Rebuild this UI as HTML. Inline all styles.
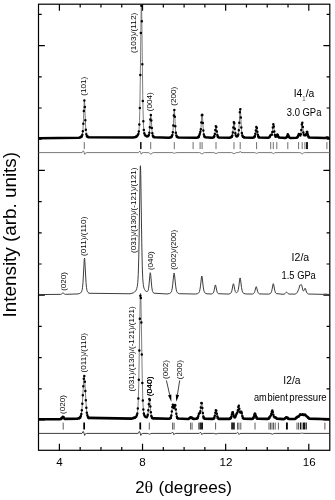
<!DOCTYPE html>
<html lang="en">
<head>
<meta charset="utf-8">
<title>XRD patterns</title>
<style>html,body{margin:0;padding:0;background:#fff;}svg{display:block;}</style>
</head>
<body>
<svg width="335" height="500" viewBox="0 0 335 500">
<rect width="335" height="500" fill="#fff"/>
<g fill="none" stroke="#000" stroke-width="1.2" stroke-linecap="butt">
<rect x="38.5" y="4.2" width="291.3" height="446.1"/>
<path d="M59.4,4.2 v6.6 M59.4,450.3 v-6.6 M80.18,4.2 v3.2 M80.18,450.3 v-3.2 M100.97,4.2 v3.2 M100.97,450.3 v-3.2 M121.75,4.2 v3.2 M121.75,450.3 v-3.2 M142.53,4.2 v6.6 M142.53,450.3 v-6.6 M163.32,4.2 v3.2 M163.32,450.3 v-3.2 M184.1,4.2 v3.2 M184.1,450.3 v-3.2 M204.88,4.2 v3.2 M204.88,450.3 v-3.2 M225.67,4.2 v6.6 M225.67,450.3 v-6.6 M246.45,4.2 v3.2 M246.45,450.3 v-3.2 M267.23,4.2 v3.2 M267.23,450.3 v-3.2 M288.02,4.2 v3.2 M288.02,450.3 v-3.2 M308.8,4.2 v6.6 M308.8,450.3 v-6.6 M38.5,14.4 h3.2 M329.8,14.4 h-3.2 M38.5,45.6 h6.4 M329.8,45.6 h-6.4 M38.5,76.8 h3.2 M329.8,76.8 h-3.2 M38.5,108 h3.2 M329.8,108 h-3.2 M38.5,139.2 h3.2 M329.8,139.2 h-3.2 M38.5,170.4 h6.4 M329.8,170.4 h-6.4 M38.5,201.6 h3.2 M329.8,201.6 h-3.2 M38.5,232.8 h3.2 M329.8,232.8 h-3.2 M38.5,264 h3.2 M329.8,264 h-3.2 M38.5,295.2 h6.4 M329.8,295.2 h-6.4 M38.5,326.4 h3.2 M329.8,326.4 h-3.2 M38.5,357.6 h3.2 M329.8,357.6 h-3.2 M38.5,388.8 h3.2 M329.8,388.8 h-3.2 M38.5,420 h6.4 M329.8,420 h-6.4"/>
</g>
<g fill="none" stroke="#6a6a6a" stroke-width="0.9">
<path d="M38.5,152.6 82.1,152.6 83.3,150.8 84.1,152.24 84.7,154.4 85.5,152.96 86.7,152.6 138.6,152.6 139.8,151 140.6,152.28 141.2,154.2 142,152.92 143.2,152.6 148.4,152.6 149.8,153.23 150.8,154.4 151.8,153.23 153.4,152.6 171.9,152.6 173.3,152.88 174.3,153.4 175.3,152.88 176.9,152.6 199.6,152.6 201,153.16 202,154.2 203,153.16 204.6,152.6 213.6,152.6 215,153.02 216,153.8 217,153.02 218.6,152.6 231.6,152.6 233,153.12 234,154.1 235,153.12 236.6,152.6 238.6,152.6 239.7,152.21 240.2,151.3 240.8,152.21 242,152.6 254.1,152.6 255.5,152.88 256.5,153.4 257.5,152.88 259.1,152.6 271,152.6 272.4,152.95 273.4,153.6 274.4,152.95 276,152.6 299.8,152.6 301.2,153.09 302.2,154 303.2,153.09 304.8,152.6 329.8,152.6"/>
<path stroke="#2a2a2a" stroke-width="0.9" d="M38.5,433.4 82,433.4 83.2,431.4 84,433 84.6,435.4 85.4,433.8 86.6,433.4 138.2,433.4 139.4,431.4 140.2,433 140.8,435.4 141.6,433.8 142.8,433.4 147.1,433.4 148.5,433.68 149.5,434.2 150.5,433.68 152.1,433.4 171.3,433.4 172.5,432.1 173.3,433.14 173.9,434.7 174.7,433.66 175.9,433.4 199.2,433.4 200.4,432.2 201.2,433.16 201.8,434.6 202.6,433.64 203.8,433.4 213.6,433.4 215,433.64 216,434.1 217,433.64 218.6,433.4 236.4,433.4 237.6,432.3 238.4,433.18 239,434.5 239.8,433.62 241,433.4 269.8,433.4 271.2,433.71 272.2,434.3 273.2,433.71 274.8,433.4 300.4,433.4 301.5,433.22 302,432.8 302.6,433.22 303.8,433.4 329.8,433.4"/>
</g>
<g fill="none" stroke-width="0.95">
<path stroke="#666" d="M84.3,142.1 V149.1 M150.7,142.1 V149.1 M174.3,142.1 V149.1 M193.1,142.1 V149.1 M200.1,142.1 V149.1 M202.1,142.1 V149.1 M216,142.1 V149.1 M234,142.1 V149.1 M240.2,142.1 V149.1 M256.6,142.1 V149.1 M270.7,142.1 V149.1 M273.3,142.1 V149.1 M276.8,142.1 V149.1 M287.8,142.1 V149.1 M298.6,142.1 V149.1 M302.2,142.1 V149.1 M304.9,142.1 V149.1 M326.9,142.1 V149.1"/>
<path stroke="#111" d="M140.5,142.1 V149.1 M141.1,142.1 V149.1 M306.5,142.1 V149.1 M307.5,142.1 V149.1"/>
<path stroke="#555" d="M63.2,422.6 V429.6 M149.3,422.6 V429.6 M172.6,422.6 V429.6 M174.1,422.6 V429.6 M190.6,422.6 V429.6 M192.1,422.6 V429.6 M198.7,422.6 V429.6 M215.6,422.6 V429.6 M237.5,422.6 V429.6 M238.9,422.6 V429.6 M240.8,422.6 V429.6 M255,422.6 V429.6 M269,422.6 V429.6 M270.5,422.6 V429.6 M272,422.6 V429.6 M273.5,422.6 V429.6 M275.2,422.6 V429.6 M278.4,422.6 V429.6 M297,422.6 V429.6 M298.5,422.6 V429.6 M301.9,422.6 V429.6 M324.9,422.6 V429.6"/>
<path stroke="#000" stroke-width="1.05" d="M83.8,422.6 V429.6 M84.5,422.6 V429.6 M139.9,422.6 V429.6 M140.6,422.6 V429.6 M200,422.6 V429.6 M201.2,422.6 V429.6 M202.4,422.6 V429.6 M231.8,422.6 V429.6 M233,422.6 V429.6 M234.2,422.6 V429.6 M286.5,422.6 V429.6 M287.3,422.6 V429.6 M300.4,422.6 V429.6 M303.4,422.6 V429.6 M304.6,422.6 V429.6 M306.2,422.6 V429.6"/>
</g>
<defs><clipPath id="cp"><rect x="38.5" y="4.2" width="291.3" height="446.1"/></clipPath></defs>
<g clip-path="url(#cp)">
<g fill="none" stroke="#666" stroke-width="0.85" stroke-linejoin="round">
<path d="M38.5,138.19 79,137.68 80.5,137.24 81.25,136.77 81.75,136.2 82,135.74 82.25,135.03 82.5,133.89 82.75,132.06 83,129.2 83.5,119.43 84,106.18 84.25,101.55 84.5,101.07 84.75,105.01 85.5,124.01 85.75,128.47 86,131.58 86.25,133.59 86.5,134.84 86.75,135.62 87.25,136.46 88,137.08 133.25,137.53 135.75,136.87 136.75,136.29 137.5,135.55 138,134.76 138.25,134.17 138.5,133.33 138.75,132.02 139,129.88 139.25,126.31 139.5,120.51 139.75,111.55 140.25,81.53 141,19.68 141.25,7.29 141.5,6.06 141.75,16.46 142.75,95.47 143,109.22 143.25,118.91 143.5,125.26 143.75,129.18 144,131.54 144.25,132.96 144.5,133.85 145,134.9 145.75,135.73 146.5,136.15 147.25,136.3 147.75,136.25 148.25,136 148.5,135.73 148.75,135.26 149,134.48 149.25,133.19 149.5,131.19 150,124.71 150.5,116.94 150.75,115.05 151,115.93 152,130.4 152.25,132.78 152.5,134.38 152.75,135.41 153,136.05 153.5,136.72 154.5,137.28 169,137.71 170.75,137.26 171.5,136.78 172,136.1 172.25,135.47 172.5,134.44 172.75,132.79 173,130.28 174,112.56 174.25,110.19 174.5,111.25 175.5,129 175.75,131.91 176,133.88 176.25,135.12 176.5,135.89 176.75,136.38 177.25,136.92 178.5,137.51 196.5,137.74 197.75,137.42 198.25,137.13 198.75,136.53 199.25,135.41 200.5,131.25 200.75,129.75 201,127.37 201.75,115.97 202,113.54 202.25,113.94 202.5,117.02 203.25,129.41 203.5,132.15 203.75,134.03 204,135.24 204.25,135.99 204.5,136.46 205,136.98 206.5,137.58 212.25,137.71 213.25,137.46 213.75,137.14 214,136.84 214.25,136.35 214.5,135.57 214.75,134.39 215.75,126.63 216,125.88 216.25,126.64 217.25,134.4 217.5,135.58 217.75,136.37 218,136.86 218.5,137.36 229.25,137.76 231,137.34 231.5,137.03 231.75,136.77 232,136.36 232.25,135.7 232.5,134.66 232.75,133.1 233.75,122.86 234,121.84 234.25,122.81 235,130.74 235.25,132.84 235.5,134.34 235.75,135.31 236,135.89 236.25,136.21 236.5,136.37 237,136.4 237.5,136.15 237.75,135.87 238,135.41 238.25,134.65 238.5,133.37 238.75,131.33 239.25,124.13 240,109.66 240.25,108.56 240.5,111.06 241.25,126.03 241.5,129.78 241.75,132.43 242,134.17 242.25,135.26 242.5,135.94 243,136.66 244,137.29 252.25,137.8 253.75,137.47 254.25,137.12 254.5,136.8 254.75,136.28 255,135.49 255.5,132.84 256.25,127.52 256.5,126.9 256.75,127.52 257.75,134.36 258,135.5 258.25,136.29 258.5,136.81 258.75,137.14 259.25,137.49 268,137.83 268.75,137.66 269.25,137.36 269.75,136.71 270.5,135.21 270.75,134.88 271,134.8 271.5,134.9 271.75,134.66 272,133.96 272.25,132.67 273,125.98 273.25,124.29 273.5,124.13 273.75,125.61 274.5,132.69 274.75,134.34 275,135.48 275.25,136.19 275.5,136.57 275.75,136.72 276,136.67 276.25,136.43 277,134.85 277.25,134.45 277.5,134.45 277.75,134.87 278.5,136.77 278.75,137.2 279.25,137.66 285.25,137.95 286,137.77 286.25,137.61 286.5,137.34 287,136.33 287.5,134.9 287.75,134.4 288,134.34 288.25,134.77 289,136.82 289.25,137.27 289.5,137.57 290,137.85 296.25,137.83 297,137.61 297.5,137.18 298,136.25 298.75,134.27 299,133.98 299.25,134.11 300,135.39 300.25,135.5 300.5,135.21 300.75,134.41 301,132.98 302,123.08 302.25,122.46 302.5,123.82 303.25,131.67 303.5,133.44 303.75,134.53 304,135.07 304.25,135.21 304.75,135.05 305,135.07 305.5,135.34 305.75,135.29 306,134.93 306.75,132.24 307,131.63 307.25,131.78 308.25,136.03 308.5,136.74 308.75,137.2 309,137.48 309.5,137.74 325,138.05 326.75,137.39 327.25,137.45 328.5,138 329.75,138.13"/>
<path stroke="#333" stroke-width="0.95" d="M38.5,294.57 60.5,294.36 61.25,294.15 62.75,292.99 63,292.92 63.25,292.99 64.5,294 65.5,294.33 78,293.93 79.75,293.4 80.75,292.75 81.25,292.18 81.75,291.19 82,290.4 82.25,289.27 82.5,287.67 83,282.42 84.25,259.58 84.5,258.06 84.75,259.58 86,282.42 86.5,287.66 86.75,289.27 87,290.4 87.5,291.75 88,292.49 89,293.27 130,293.76 133.25,292.89 134.5,292.15 135.5,291.13 136.25,289.88 136.75,288.59 137.25,286.52 137.5,284.9 137.75,282.59 138,279.23 138.25,274.33 138.75,257.76 139.25,229.71 140,177.14 140.25,166.78 140.5,165.76 140.75,174.44 141.75,242.25 142.25,265.55 142.5,273 142.75,278.25 143,281.86 143.25,284.33 143.5,286.04 144,288.18 144.5,289.46 145.25,290.63 146,291.29 146.75,291.57 147.25,291.52 147.5,291.37 147.75,291.1 148,290.64 148.25,289.9 148.5,288.77 149,285.04 150,273.88 150.25,272.71 150.5,273.29 150.75,275.41 151.75,286.9 152.25,290.21 152.5,291.2 152.75,291.88 153.25,292.66 154,293.21 167,293.99 169.5,293.48 170.25,293.1 170.75,292.67 171.25,291.92 171.75,290.54 172.25,288.08 172.75,284.18 173.75,274.26 174,273.08 174.25,273.21 174.5,274.63 175.75,286.71 176.25,289.73 176.75,291.49 177.25,292.45 177.75,292.99 179.25,293.7 195.75,294.04 197.75,293.55 198.5,293.09 199,292.5 199.5,291.39 200,289.31 200.5,285.87 201.5,276.91 201.75,276.01 202,276.4 202.25,277.96 203.25,287.05 203.75,290.05 204.25,291.78 204.75,292.7 205.25,293.18 207,293.84 211.25,293.96 212.25,293.73 212.75,293.47 213.25,292.94 213.75,291.84 214.25,289.9 215,285.91 215.25,285.07 215.5,284.99 215.75,285.7 216.75,290.81 217.25,292.4 217.75,293.24 218.25,293.66 228.25,294.08 230,293.68 230.5,293.4 231,292.89 231.5,291.89 232,290.12 233,284.71 233.25,283.86 233.5,283.76 233.75,284.43 234.75,289.63 235.25,291.37 235.5,291.91 235.75,292.27 236,292.5 236.25,292.62 236.75,292.62 237.25,292.29 237.5,291.96 237.75,291.47 238.25,289.8 238.75,286.92 239.75,278.93 240,277.93 240.25,278.06 240.5,279.28 241.5,287.43 242,290.25 242.5,291.91 243,292.79 243.5,293.26 245.75,293.99 252.25,294.04 253.25,293.76 253.75,293.42 254.25,292.74 254.75,291.51 255.75,287.56 256,286.86 256.25,286.68 256.5,287.09 257.75,291.83 258.25,292.94 258.75,293.53 259.5,293.93 268.5,294.13 270,293.76 270.5,293.45 271,292.86 271.5,291.73 272,289.75 273,284.3 273.25,283.73 273.5,283.98 273.75,284.96 274.75,290.44 275.25,292.15 275.75,293.09 276.25,293.57 283,294.29 284.25,294.08 285,293.65 286.25,292.22 286.5,292.07 286.75,292.08 287.25,292.55 288.25,293.69 289,294.09 294.75,294.09 295.75,293.82 296.5,293.33 297.25,292.37 298.5,289.75 299,288.23 299.75,285.36 300,284.93 300.25,284.91 300.5,285.04 300.75,285.08 301.25,284.72 301.5,284.73 301.75,285.25 302.75,289.77 303,290.5 303.25,290.91 303.5,291.01 303.75,290.82 304.25,289.8 304.75,288.52 305,288.2 305.25,288.32 305.5,288.85 306.5,292.01 307,293.01 307.5,293.57 308.5,294.03 323,294.37 325,294.06 329.75,294.54"/>
<path d="M38.5,419.23 60.5,419.04 61,418.89 61.5,418.53 62.5,417.15 62.75,416.92 63,416.89 63.25,417.08 64.25,418.46 64.75,418.84 77.5,418.61 79.25,418.13 80,417.64 80.5,416.97 80.75,416.41 81,415.62 81.5,413 82,408.36 82.75,396.81 83.5,382.75 83.75,379.11 84,376.82 84.25,376.27 84.5,377.55 84.75,380.43 86,402.85 86.5,409.48 87,413.66 87.5,415.97 88,417.13 88.5,417.72 89.75,418.34 131.75,418.53 134.5,417.81 135.75,417.03 136.25,416.5 136.75,415.63 137,414.92 137.25,413.86 137.5,412.26 137.75,409.8 138,406.11 138.25,400.75 138.75,383.35 140,308.96 140.25,298.16 140.5,293.29 140.75,295.4 141,304.03 142.25,378.59 142.75,397.94 143,404.09 143.25,408.37 143.5,411.25 143.75,413.14 144,414.37 144.25,415.18 144.75,416.11 145.25,416.61 146,417 146.5,417.06 146.75,417.01 147,416.86 147.25,416.54 147.5,415.95 147.75,414.95 148,413.41 148.5,408.4 149,401.96 149.25,399.5 149.5,398.57 149.75,399.57 150.75,411.58 151,413.85 151.25,415.48 151.5,416.57 151.75,417.26 152,417.68 152.5,418.12 168.25,418.83 169.75,418.52 170.25,418.23 170.5,417.97 170.75,417.53 171,416.85 171.25,415.81 171.75,412.44 172.5,405.89 172.75,404.78 173,404.8 173.75,407.83 174,408.07 174.25,407.54 174.75,405.29 175,404.66 175.25,405.1 175.5,406.62 176.25,413.26 176.75,416.29 177,417.18 177.25,417.75 177.5,418.11 178,418.48 187.75,419 188.75,418.77 190.5,417.43 190.75,417.32 191,417.31 191.5,417.57 192.75,418.57 193.75,418.89 196.25,418.77 197,418.49 197.5,417.96 198,416.84 199,413.49 199.25,413.07 199.75,412.9 200,412.59 200.25,411.76 200.5,410.27 201.25,403.67 201.5,402.45 201.75,402.71 202,404.39 202.75,412.28 203.25,415.91 203.5,416.96 203.75,417.64 204,418.06 204.5,418.47 212.25,418.94 213.25,418.76 213.75,418.46 214,418.16 214.25,417.69 214.75,415.95 215.75,410.6 216,410.17 216.25,410.6 217.25,415.96 217.75,417.69 218,418.17 218.25,418.48 218.75,418.77 229.25,418.91 230,418.74 230.5,418.42 230.75,418.1 231,417.61 231.5,415.97 232.25,412.64 232.5,412.04 232.75,412.09 233,412.76 233.75,415.96 234,416.77 234.25,417.33 234.5,417.64 234.75,417.71 235,417.57 235.25,417.23 236.5,413.95 237.25,412.73 237.5,411.9 238.5,406.19 238.75,405.9 239,406.67 239.75,411.32 240,412.23 240.25,412.53 240.5,412.31 241,411.42 241.25,411.46 241.5,412.07 242.5,416.54 243,417.87 243.25,418.23 243.75,418.62 251.75,418.96 252.5,418.76 253,418.36 253.5,417.51 254.5,414.48 254.75,413.9 255,413.68 255.25,413.9 256.5,417.52 257,418.37 257.5,418.77 267.25,418.98 268,418.81 268.5,418.53 269.25,417.69 270.75,415.44 271.25,414.01 272,411.06 272.25,410.66 272.5,410.94 273.5,415.32 273.75,416.17 274,416.75 274.25,417.08 274.5,417.22 275.25,417.34 277,418.69 283.75,419.04 284.5,418.85 285.25,418.33 286.25,417.31 286.5,417.19 286.75,417.2 287.25,417.58 288.25,418.58 289,418.95 294.5,418.97 295.25,418.77 296,418.23 297,417.09 297.25,416.89 297.5,416.8 298.25,416.85 298.5,416.79 298.75,416.6 299.25,415.86 300,414.51 300.25,414.34 300.5,414.37 301.25,414.88 301.5,414.9 302.5,414.28 302.75,414.31 303.5,414.94 303.75,415.07 304,415.07 304.75,414.63 305,414.6 305.25,414.74 306.25,415.96 307.25,416.59 308.75,418.36 309.5,418.83 329.75,419.23"/>
</g>
<path fill="none" stroke="#000" stroke-width="2.5" stroke-linecap="round" stroke-linejoin="round" d="M38.5,138.19 79,137.68 80.5,137.24 81.4,136.63 M87.4,136.63 88.6,137.36 133.3,137.52 135.7,136.89 136,136.75 M153.4,136.62 154.3,137.2 169,137.71 170.8,137.24 171.4,136.87 M177.1,136.8 178.3,137.45 196.6,137.72 197.8,137.4 198.4,136.99 198.7,136.61 M204.7,136.71 205.6,137.31 211.6,137.78 213.1,137.52 213.7,137.19 214,136.84 M217.9,136.69 218.2,137.11 218.8,137.51 229.6,137.71 231.1,137.29 231.7,136.83 M243.1,136.76 244.3,137.4 252.4,137.78 253.6,137.53 254.2,137.17 254.5,136.8 M258.4,136.63 258.7,137.09 259.3,137.51 268,137.83 268.9,137.6 269.5,137.09 269.8,136.62 M278.5,136.77 278.8,137.27 279.1,137.56 285.4,137.93 286,137.77 286.3,137.57 286.6,137.19 M289,136.82 289.3,137.34 289.6,137.65 290.5,137.94 296.5,137.78 297.1,137.55 297.4,137.3 297.7,136.88 M308.5,136.74 308.8,137.27 309.1,137.55 325,138.05 326.8,137.38 327.4,137.52 328.6,138.02 329.5,138.12"/>
<path fill="#000" d="M79.58,136.95a1.25,1.25 0 1,0 2.5,0a1.25,1.25 0 1,0 -2.5,0M80.08,136.66a1.25,1.25 0 1,0 2.5,0a1.25,1.25 0 1,0 -2.5,0M80.58,136.07a1.25,1.25 0 1,0 2.5,0a1.25,1.25 0 1,0 -2.5,0M81.08,134.67a1.25,1.25 0 1,0 2.5,0a1.25,1.25 0 1,0 -2.5,0M81.58,131.25a1.25,1.25 0 1,0 2.5,0a1.25,1.25 0 1,0 -2.5,0M82.08,123.67a1.25,1.25 0 1,0 2.5,0a1.25,1.25 0 1,0 -2.5,0M82.58,110.94a1.25,1.25 0 1,0 2.5,0a1.25,1.25 0 1,0 -2.5,0M83.08,100.38a1.25,1.25 0 1,0 2.5,0a1.25,1.25 0 1,0 -2.5,0M83.58,106.95a1.25,1.25 0 1,0 2.5,0a1.25,1.25 0 1,0 -2.5,0M84.08,120.36a1.25,1.25 0 1,0 2.5,0a1.25,1.25 0 1,0 -2.5,0M84.58,129.75a1.25,1.25 0 1,0 2.5,0a1.25,1.25 0 1,0 -2.5,0M85.08,134.15a1.25,1.25 0 1,0 2.5,0a1.25,1.25 0 1,0 -2.5,0M85.58,135.94a1.25,1.25 0 1,0 2.5,0a1.25,1.25 0 1,0 -2.5,0M86.08,136.45a1.25,1.25 0 1,0 2.5,0a1.25,1.25 0 1,0 -2.5,0M86.58,136.85a1.25,1.25 0 1,0 2.5,0a1.25,1.25 0 1,0 -2.5,0M134.08,136.92a1.25,1.25 0 1,0 2.5,0a1.25,1.25 0 1,0 -2.5,0M134.58,136.97a1.25,1.25 0 1,0 2.5,0a1.25,1.25 0 1,0 -2.5,0M135.08,136.61a1.25,1.25 0 1,0 2.5,0a1.25,1.25 0 1,0 -2.5,0M135.58,136.16a1.25,1.25 0 1,0 2.5,0a1.25,1.25 0 1,0 -2.5,0M136.08,135.84a1.25,1.25 0 1,0 2.5,0a1.25,1.25 0 1,0 -2.5,0M136.58,134.95a1.25,1.25 0 1,0 2.5,0a1.25,1.25 0 1,0 -2.5,0M137.08,133.92a1.25,1.25 0 1,0 2.5,0a1.25,1.25 0 1,0 -2.5,0M137.58,131.49a1.25,1.25 0 1,0 2.5,0a1.25,1.25 0 1,0 -2.5,0M138.08,124.53a1.25,1.25 0 1,0 2.5,0a1.25,1.25 0 1,0 -2.5,0M138.58,107.9a1.25,1.25 0 1,0 2.5,0a1.25,1.25 0 1,0 -2.5,0M139.08,75.05a1.25,1.25 0 1,0 2.5,0a1.25,1.25 0 1,0 -2.5,0M139.58,33.06a1.25,1.25 0 1,0 2.5,0a1.25,1.25 0 1,0 -2.5,0M140.08,5.79a1.25,1.25 0 1,0 2.5,0a1.25,1.25 0 1,0 -2.5,0M140.58,21.36a1.25,1.25 0 1,0 2.5,0a1.25,1.25 0 1,0 -2.5,0M141.08,64.17a1.25,1.25 0 1,0 2.5,0a1.25,1.25 0 1,0 -2.5,0M141.58,100.99a1.25,1.25 0 1,0 2.5,0a1.25,1.25 0 1,0 -2.5,0M142.08,121.21a1.25,1.25 0 1,0 2.5,0a1.25,1.25 0 1,0 -2.5,0M142.58,129.96a1.25,1.25 0 1,0 2.5,0a1.25,1.25 0 1,0 -2.5,0M143.08,133.17a1.25,1.25 0 1,0 2.5,0a1.25,1.25 0 1,0 -2.5,0M143.58,134.73a1.25,1.25 0 1,0 2.5,0a1.25,1.25 0 1,0 -2.5,0M144.08,135.43a1.25,1.25 0 1,0 2.5,0a1.25,1.25 0 1,0 -2.5,0M144.58,135.82a1.25,1.25 0 1,0 2.5,0a1.25,1.25 0 1,0 -2.5,0M145.08,135.99a1.25,1.25 0 1,0 2.5,0a1.25,1.25 0 1,0 -2.5,0M145.58,136.4a1.25,1.25 0 1,0 2.5,0a1.25,1.25 0 1,0 -2.5,0M146.08,136.18a1.25,1.25 0 1,0 2.5,0a1.25,1.25 0 1,0 -2.5,0M146.58,136.34a1.25,1.25 0 1,0 2.5,0a1.25,1.25 0 1,0 -2.5,0M147.08,135.88a1.25,1.25 0 1,0 2.5,0a1.25,1.25 0 1,0 -2.5,0M147.58,135.1a1.25,1.25 0 1,0 2.5,0a1.25,1.25 0 1,0 -2.5,0M148.08,132.63a1.25,1.25 0 1,0 2.5,0a1.25,1.25 0 1,0 -2.5,0M148.58,127.14a1.25,1.25 0 1,0 2.5,0a1.25,1.25 0 1,0 -2.5,0M149.08,119.53a1.25,1.25 0 1,0 2.5,0a1.25,1.25 0 1,0 -2.5,0M149.58,115a1.25,1.25 0 1,0 2.5,0a1.25,1.25 0 1,0 -2.5,0M150.08,120.39a1.25,1.25 0 1,0 2.5,0a1.25,1.25 0 1,0 -2.5,0M150.58,128.06a1.25,1.25 0 1,0 2.5,0a1.25,1.25 0 1,0 -2.5,0M151.08,133.37a1.25,1.25 0 1,0 2.5,0a1.25,1.25 0 1,0 -2.5,0M151.58,135.76a1.25,1.25 0 1,0 2.5,0a1.25,1.25 0 1,0 -2.5,0M152.08,136.52a1.25,1.25 0 1,0 2.5,0a1.25,1.25 0 1,0 -2.5,0M152.58,137.07a1.25,1.25 0 1,0 2.5,0a1.25,1.25 0 1,0 -2.5,0M170.08,136.92a1.25,1.25 0 1,0 2.5,0a1.25,1.25 0 1,0 -2.5,0M170.58,136.25a1.25,1.25 0 1,0 2.5,0a1.25,1.25 0 1,0 -2.5,0M171.08,135.11a1.25,1.25 0 1,0 2.5,0a1.25,1.25 0 1,0 -2.5,0M171.58,132.15a1.25,1.25 0 1,0 2.5,0a1.25,1.25 0 1,0 -2.5,0M172.08,125.47a1.25,1.25 0 1,0 2.5,0a1.25,1.25 0 1,0 -2.5,0M172.58,115.44a1.25,1.25 0 1,0 2.5,0a1.25,1.25 0 1,0 -2.5,0M173.08,109.88a1.25,1.25 0 1,0 2.5,0a1.25,1.25 0 1,0 -2.5,0M173.58,116.75a1.25,1.25 0 1,0 2.5,0a1.25,1.25 0 1,0 -2.5,0M174.08,126.28a1.25,1.25 0 1,0 2.5,0a1.25,1.25 0 1,0 -2.5,0M174.58,132.64a1.25,1.25 0 1,0 2.5,0a1.25,1.25 0 1,0 -2.5,0M175.08,135.41a1.25,1.25 0 1,0 2.5,0a1.25,1.25 0 1,0 -2.5,0M175.58,136.48a1.25,1.25 0 1,0 2.5,0a1.25,1.25 0 1,0 -2.5,0M176.08,137.07a1.25,1.25 0 1,0 2.5,0a1.25,1.25 0 1,0 -2.5,0M197.08,137.18a1.25,1.25 0 1,0 2.5,0a1.25,1.25 0 1,0 -2.5,0M197.58,136.49a1.25,1.25 0 1,0 2.5,0a1.25,1.25 0 1,0 -2.5,0M198.08,135.32a1.25,1.25 0 1,0 2.5,0a1.25,1.25 0 1,0 -2.5,0M198.58,133.64a1.25,1.25 0 1,0 2.5,0a1.25,1.25 0 1,0 -2.5,0M199.08,131.87a1.25,1.25 0 1,0 2.5,0a1.25,1.25 0 1,0 -2.5,0M199.58,129.15a1.25,1.25 0 1,0 2.5,0a1.25,1.25 0 1,0 -2.5,0M200.08,122.62a1.25,1.25 0 1,0 2.5,0a1.25,1.25 0 1,0 -2.5,0M200.58,115.15a1.25,1.25 0 1,0 2.5,0a1.25,1.25 0 1,0 -2.5,0M201.08,114.9a1.25,1.25 0 1,0 2.5,0a1.25,1.25 0 1,0 -2.5,0M201.58,122.93a1.25,1.25 0 1,0 2.5,0a1.25,1.25 0 1,0 -2.5,0M202.08,130.54a1.25,1.25 0 1,0 2.5,0a1.25,1.25 0 1,0 -2.5,0M202.58,134.62a1.25,1.25 0 1,0 2.5,0a1.25,1.25 0 1,0 -2.5,0M203.08,136.13a1.25,1.25 0 1,0 2.5,0a1.25,1.25 0 1,0 -2.5,0M203.58,136.92a1.25,1.25 0 1,0 2.5,0a1.25,1.25 0 1,0 -2.5,0M212.58,137.11a1.25,1.25 0 1,0 2.5,0a1.25,1.25 0 1,0 -2.5,0M213.08,136.12a1.25,1.25 0 1,0 2.5,0a1.25,1.25 0 1,0 -2.5,0M213.58,134.02a1.25,1.25 0 1,0 2.5,0a1.25,1.25 0 1,0 -2.5,0M214.08,129.94a1.25,1.25 0 1,0 2.5,0a1.25,1.25 0 1,0 -2.5,0M214.58,126.15a1.25,1.25 0 1,0 2.5,0a1.25,1.25 0 1,0 -2.5,0M215.08,127.11a1.25,1.25 0 1,0 2.5,0a1.25,1.25 0 1,0 -2.5,0M215.58,131.58a1.25,1.25 0 1,0 2.5,0a1.25,1.25 0 1,0 -2.5,0M216.08,134.91a1.25,1.25 0 1,0 2.5,0a1.25,1.25 0 1,0 -2.5,0M216.58,136.46a1.25,1.25 0 1,0 2.5,0a1.25,1.25 0 1,0 -2.5,0M230.58,136.6a1.25,1.25 0 1,0 2.5,0a1.25,1.25 0 1,0 -2.5,0M231.08,135.58a1.25,1.25 0 1,0 2.5,0a1.25,1.25 0 1,0 -2.5,0M231.58,132.54a1.25,1.25 0 1,0 2.5,0a1.25,1.25 0 1,0 -2.5,0M232.08,127.49a1.25,1.25 0 1,0 2.5,0a1.25,1.25 0 1,0 -2.5,0M232.58,122.35a1.25,1.25 0 1,0 2.5,0a1.25,1.25 0 1,0 -2.5,0M233.08,123.27a1.25,1.25 0 1,0 2.5,0a1.25,1.25 0 1,0 -2.5,0M233.58,128.84a1.25,1.25 0 1,0 2.5,0a1.25,1.25 0 1,0 -2.5,0M234.08,133.27a1.25,1.25 0 1,0 2.5,0a1.25,1.25 0 1,0 -2.5,0M234.58,135.45a1.25,1.25 0 1,0 2.5,0a1.25,1.25 0 1,0 -2.5,0M235.08,136.18a1.25,1.25 0 1,0 2.5,0a1.25,1.25 0 1,0 -2.5,0M235.58,136.47a1.25,1.25 0 1,0 2.5,0a1.25,1.25 0 1,0 -2.5,0M236.08,136.28a1.25,1.25 0 1,0 2.5,0a1.25,1.25 0 1,0 -2.5,0M236.58,135.85a1.25,1.25 0 1,0 2.5,0a1.25,1.25 0 1,0 -2.5,0M237.08,134.39a1.25,1.25 0 1,0 2.5,0a1.25,1.25 0 1,0 -2.5,0M237.58,130.3a1.25,1.25 0 1,0 2.5,0a1.25,1.25 0 1,0 -2.5,0M238.08,122.75a1.25,1.25 0 1,0 2.5,0a1.25,1.25 0 1,0 -2.5,0M238.58,112.3a1.25,1.25 0 1,0 2.5,0a1.25,1.25 0 1,0 -2.5,0M239.08,109.13a1.25,1.25 0 1,0 2.5,0a1.25,1.25 0 1,0 -2.5,0M239.58,117.58a1.25,1.25 0 1,0 2.5,0a1.25,1.25 0 1,0 -2.5,0M240.08,127.41a1.25,1.25 0 1,0 2.5,0a1.25,1.25 0 1,0 -2.5,0M240.58,132.89a1.25,1.25 0 1,0 2.5,0a1.25,1.25 0 1,0 -2.5,0M241.08,135.6a1.25,1.25 0 1,0 2.5,0a1.25,1.25 0 1,0 -2.5,0M241.58,136.58a1.25,1.25 0 1,0 2.5,0a1.25,1.25 0 1,0 -2.5,0M242.08,136.92a1.25,1.25 0 1,0 2.5,0a1.25,1.25 0 1,0 -2.5,0M242.58,137.18a1.25,1.25 0 1,0 2.5,0a1.25,1.25 0 1,0 -2.5,0M253.08,136.91a1.25,1.25 0 1,0 2.5,0a1.25,1.25 0 1,0 -2.5,0M253.58,135.94a1.25,1.25 0 1,0 2.5,0a1.25,1.25 0 1,0 -2.5,0M254.08,133.81a1.25,1.25 0 1,0 2.5,0a1.25,1.25 0 1,0 -2.5,0M254.58,130.51a1.25,1.25 0 1,0 2.5,0a1.25,1.25 0 1,0 -2.5,0M255.08,126.92a1.25,1.25 0 1,0 2.5,0a1.25,1.25 0 1,0 -2.5,0M255.58,128a1.25,1.25 0 1,0 2.5,0a1.25,1.25 0 1,0 -2.5,0M256.08,131.69a1.25,1.25 0 1,0 2.5,0a1.25,1.25 0 1,0 -2.5,0M256.58,134.85a1.25,1.25 0 1,0 2.5,0a1.25,1.25 0 1,0 -2.5,0M257.08,136.55a1.25,1.25 0 1,0 2.5,0a1.25,1.25 0 1,0 -2.5,0M257.58,137.14a1.25,1.25 0 1,0 2.5,0a1.25,1.25 0 1,0 -2.5,0M268.58,136.56a1.25,1.25 0 1,0 2.5,0a1.25,1.25 0 1,0 -2.5,0M269.08,135.58a1.25,1.25 0 1,0 2.5,0a1.25,1.25 0 1,0 -2.5,0M269.58,134.98a1.25,1.25 0 1,0 2.5,0a1.25,1.25 0 1,0 -2.5,0M270.08,134.84a1.25,1.25 0 1,0 2.5,0a1.25,1.25 0 1,0 -2.5,0M270.58,134.64a1.25,1.25 0 1,0 2.5,0a1.25,1.25 0 1,0 -2.5,0M271.08,131.91a1.25,1.25 0 1,0 2.5,0a1.25,1.25 0 1,0 -2.5,0M271.58,127.55a1.25,1.25 0 1,0 2.5,0a1.25,1.25 0 1,0 -2.5,0M272.08,124.16a1.25,1.25 0 1,0 2.5,0a1.25,1.25 0 1,0 -2.5,0M272.58,126.44a1.25,1.25 0 1,0 2.5,0a1.25,1.25 0 1,0 -2.5,0M273.08,131.4a1.25,1.25 0 1,0 2.5,0a1.25,1.25 0 1,0 -2.5,0M273.58,134.88a1.25,1.25 0 1,0 2.5,0a1.25,1.25 0 1,0 -2.5,0M274.08,136.43a1.25,1.25 0 1,0 2.5,0a1.25,1.25 0 1,0 -2.5,0M274.58,136.72a1.25,1.25 0 1,0 2.5,0a1.25,1.25 0 1,0 -2.5,0M275.08,136.42a1.25,1.25 0 1,0 2.5,0a1.25,1.25 0 1,0 -2.5,0M275.58,135.27a1.25,1.25 0 1,0 2.5,0a1.25,1.25 0 1,0 -2.5,0M276.08,134.46a1.25,1.25 0 1,0 2.5,0a1.25,1.25 0 1,0 -2.5,0M276.58,134.98a1.25,1.25 0 1,0 2.5,0a1.25,1.25 0 1,0 -2.5,0M277.08,136.39a1.25,1.25 0 1,0 2.5,0a1.25,1.25 0 1,0 -2.5,0M285.58,136.89a1.25,1.25 0 1,0 2.5,0a1.25,1.25 0 1,0 -2.5,0M286.08,135.41a1.25,1.25 0 1,0 2.5,0a1.25,1.25 0 1,0 -2.5,0M286.58,134.25a1.25,1.25 0 1,0 2.5,0a1.25,1.25 0 1,0 -2.5,0M287.08,135.15a1.25,1.25 0 1,0 2.5,0a1.25,1.25 0 1,0 -2.5,0M287.58,136.45a1.25,1.25 0 1,0 2.5,0a1.25,1.25 0 1,0 -2.5,0M296.58,136.55a1.25,1.25 0 1,0 2.5,0a1.25,1.25 0 1,0 -2.5,0M297.08,135.22a1.25,1.25 0 1,0 2.5,0a1.25,1.25 0 1,0 -2.5,0M297.58,134.12a1.25,1.25 0 1,0 2.5,0a1.25,1.25 0 1,0 -2.5,0M298.08,134.36a1.25,1.25 0 1,0 2.5,0a1.25,1.25 0 1,0 -2.5,0M298.58,135.12a1.25,1.25 0 1,0 2.5,0a1.25,1.25 0 1,0 -2.5,0M299.08,135.46a1.25,1.25 0 1,0 2.5,0a1.25,1.25 0 1,0 -2.5,0M299.58,134.13a1.25,1.25 0 1,0 2.5,0a1.25,1.25 0 1,0 -2.5,0M300.08,129.96a1.25,1.25 0 1,0 2.5,0a1.25,1.25 0 1,0 -2.5,0M300.58,124.44a1.25,1.25 0 1,0 2.5,0a1.25,1.25 0 1,0 -2.5,0M301.08,122.84a1.25,1.25 0 1,0 2.5,0a1.25,1.25 0 1,0 -2.5,0M301.58,127.07a1.25,1.25 0 1,0 2.5,0a1.25,1.25 0 1,0 -2.5,0M302.08,132.49a1.25,1.25 0 1,0 2.5,0a1.25,1.25 0 1,0 -2.5,0M302.58,134.7a1.25,1.25 0 1,0 2.5,0a1.25,1.25 0 1,0 -2.5,0M303.08,135.34a1.25,1.25 0 1,0 2.5,0a1.25,1.25 0 1,0 -2.5,0M303.58,134.88a1.25,1.25 0 1,0 2.5,0a1.25,1.25 0 1,0 -2.5,0M304.08,135.12a1.25,1.25 0 1,0 2.5,0a1.25,1.25 0 1,0 -2.5,0M304.58,135.27a1.25,1.25 0 1,0 2.5,0a1.25,1.25 0 1,0 -2.5,0M305.08,134.11a1.25,1.25 0 1,0 2.5,0a1.25,1.25 0 1,0 -2.5,0M305.58,131.93a1.25,1.25 0 1,0 2.5,0a1.25,1.25 0 1,0 -2.5,0M306.08,132.04a1.25,1.25 0 1,0 2.5,0a1.25,1.25 0 1,0 -2.5,0M306.58,134.2a1.25,1.25 0 1,0 2.5,0a1.25,1.25 0 1,0 -2.5,0M307.08,136.15a1.25,1.25 0 1,0 2.5,0a1.25,1.25 0 1,0 -2.5,0"/>
<path fill="none" stroke="#000" stroke-width="2.7" stroke-linecap="round" stroke-linejoin="round" d="M38.5,419.23 60.4,419.06 61,418.89 61.6,418.42 61.9,418.03 M63.7,417.72 64.3,418.51 64.9,418.91 77.8,418.56 79.3,418.11 79.9,417.73 M88.6,417.8 131.8,418.53 134.5,417.81 134.8,417.66 M152.2,417.9 153.4,418.46 168.7,418.77 169.9,418.46 170.5,417.97 M177.4,417.98 178,418.48 187.9,418.99 188.8,418.75 190,417.84 M191.8,417.82 192.7,418.55 193.6,418.87 196.3,418.76 196.9,418.55 197.2,418.33 197.5,417.96 M203.8,417.74 204.1,418.17 204.7,418.57 212.5,418.91 213.4,418.7 213.7,418.51 214,418.16 M217.9,418.01 218.2,418.43 218.8,418.79 229.3,418.9 230.2,418.64 230.5,418.42 230.8,418.01 M243.1,418.03 243.4,418.39 244,418.71 251.8,418.95 252.4,418.8 253,418.36 253.3,417.92 M256.6,417.74 256.9,418.25 257.5,418.77 267.4,418.96 268.3,418.67 268.9,418.15 269.2,417.76 M275.8,417.71 277,418.69 283.6,419.06 284.5,418.85 285.1,418.46 285.7,417.85 M287.5,417.85 288.4,418.68 289.3,419.01 294.7,418.94 295.6,418.57 296.5,417.66 M308.2,417.74 309.1,418.63 329.5,419.23"/>
<path fill="#000" d="M60.58,418.07a1.25,1.25 0 1,0 2.5,0a1.25,1.25 0 1,0 -2.5,0M61.08,417.38a1.25,1.25 0 1,0 2.5,0a1.25,1.25 0 1,0 -2.5,0M61.58,416.77a1.25,1.25 0 1,0 2.5,0a1.25,1.25 0 1,0 -2.5,0M62.08,417.06a1.25,1.25 0 1,0 2.5,0a1.25,1.25 0 1,0 -2.5,0M62.58,417.86a1.25,1.25 0 1,0 2.5,0a1.25,1.25 0 1,0 -2.5,0M78.08,418.07a1.25,1.25 0 1,0 2.5,0a1.25,1.25 0 1,0 -2.5,0M78.58,417.67a1.25,1.25 0 1,0 2.5,0a1.25,1.25 0 1,0 -2.5,0M79.08,417.18a1.25,1.25 0 1,0 2.5,0a1.25,1.25 0 1,0 -2.5,0M79.58,416.05a1.25,1.25 0 1,0 2.5,0a1.25,1.25 0 1,0 -2.5,0M80.08,414.03a1.25,1.25 0 1,0 2.5,0a1.25,1.25 0 1,0 -2.5,0M80.58,410.2a1.25,1.25 0 1,0 2.5,0a1.25,1.25 0 1,0 -2.5,0M81.08,403.83a1.25,1.25 0 1,0 2.5,0a1.25,1.25 0 1,0 -2.5,0M81.58,395.26a1.25,1.25 0 1,0 2.5,0a1.25,1.25 0 1,0 -2.5,0M82.08,386.27a1.25,1.25 0 1,0 2.5,0a1.25,1.25 0 1,0 -2.5,0M82.58,378.68a1.25,1.25 0 1,0 2.5,0a1.25,1.25 0 1,0 -2.5,0M83.08,375.93a1.25,1.25 0 1,0 2.5,0a1.25,1.25 0 1,0 -2.5,0M83.58,381.67a1.25,1.25 0 1,0 2.5,0a1.25,1.25 0 1,0 -2.5,0M84.08,390.95a1.25,1.25 0 1,0 2.5,0a1.25,1.25 0 1,0 -2.5,0M84.58,400.27a1.25,1.25 0 1,0 2.5,0a1.25,1.25 0 1,0 -2.5,0M85.08,407.66a1.25,1.25 0 1,0 2.5,0a1.25,1.25 0 1,0 -2.5,0M85.58,412.68a1.25,1.25 0 1,0 2.5,0a1.25,1.25 0 1,0 -2.5,0M86.08,415.22a1.25,1.25 0 1,0 2.5,0a1.25,1.25 0 1,0 -2.5,0M86.58,416.68a1.25,1.25 0 1,0 2.5,0a1.25,1.25 0 1,0 -2.5,0M87.08,417.56a1.25,1.25 0 1,0 2.5,0a1.25,1.25 0 1,0 -2.5,0M87.58,417.89a1.25,1.25 0 1,0 2.5,0a1.25,1.25 0 1,0 -2.5,0M132.08,418.11a1.25,1.25 0 1,0 2.5,0a1.25,1.25 0 1,0 -2.5,0M132.58,418.1a1.25,1.25 0 1,0 2.5,0a1.25,1.25 0 1,0 -2.5,0M133.08,417.79a1.25,1.25 0 1,0 2.5,0a1.25,1.25 0 1,0 -2.5,0M133.58,417.67a1.25,1.25 0 1,0 2.5,0a1.25,1.25 0 1,0 -2.5,0M134.08,417.23a1.25,1.25 0 1,0 2.5,0a1.25,1.25 0 1,0 -2.5,0M134.58,417.11a1.25,1.25 0 1,0 2.5,0a1.25,1.25 0 1,0 -2.5,0M135.08,416.44a1.25,1.25 0 1,0 2.5,0a1.25,1.25 0 1,0 -2.5,0M135.58,415.36a1.25,1.25 0 1,0 2.5,0a1.25,1.25 0 1,0 -2.5,0M136.08,413.55a1.25,1.25 0 1,0 2.5,0a1.25,1.25 0 1,0 -2.5,0M136.58,408.58a1.25,1.25 0 1,0 2.5,0a1.25,1.25 0 1,0 -2.5,0M137.08,398.58a1.25,1.25 0 1,0 2.5,0a1.25,1.25 0 1,0 -2.5,0M137.58,379.75a1.25,1.25 0 1,0 2.5,0a1.25,1.25 0 1,0 -2.5,0M138.08,350.57a1.25,1.25 0 1,0 2.5,0a1.25,1.25 0 1,0 -2.5,0M138.58,318.68a1.25,1.25 0 1,0 2.5,0a1.25,1.25 0 1,0 -2.5,0M139.08,295.67a1.25,1.25 0 1,0 2.5,0a1.25,1.25 0 1,0 -2.5,0M139.58,298.11a1.25,1.25 0 1,0 2.5,0a1.25,1.25 0 1,0 -2.5,0M140.08,322.56a1.25,1.25 0 1,0 2.5,0a1.25,1.25 0 1,0 -2.5,0M140.58,354.49a1.25,1.25 0 1,0 2.5,0a1.25,1.25 0 1,0 -2.5,0M141.08,382.89a1.25,1.25 0 1,0 2.5,0a1.25,1.25 0 1,0 -2.5,0M141.58,400.53a1.25,1.25 0 1,0 2.5,0a1.25,1.25 0 1,0 -2.5,0M142.08,409.38a1.25,1.25 0 1,0 2.5,0a1.25,1.25 0 1,0 -2.5,0M142.58,413.5a1.25,1.25 0 1,0 2.5,0a1.25,1.25 0 1,0 -2.5,0M143.08,415.27a1.25,1.25 0 1,0 2.5,0a1.25,1.25 0 1,0 -2.5,0M143.58,416.31a1.25,1.25 0 1,0 2.5,0a1.25,1.25 0 1,0 -2.5,0M144.08,416.76a1.25,1.25 0 1,0 2.5,0a1.25,1.25 0 1,0 -2.5,0M144.58,416.97a1.25,1.25 0 1,0 2.5,0a1.25,1.25 0 1,0 -2.5,0M145.08,416.98a1.25,1.25 0 1,0 2.5,0a1.25,1.25 0 1,0 -2.5,0M145.58,417.13a1.25,1.25 0 1,0 2.5,0a1.25,1.25 0 1,0 -2.5,0M146.08,416.25a1.25,1.25 0 1,0 2.5,0a1.25,1.25 0 1,0 -2.5,0M146.58,414.66a1.25,1.25 0 1,0 2.5,0a1.25,1.25 0 1,0 -2.5,0M147.08,410.31a1.25,1.25 0 1,0 2.5,0a1.25,1.25 0 1,0 -2.5,0M147.58,404.2a1.25,1.25 0 1,0 2.5,0a1.25,1.25 0 1,0 -2.5,0M148.08,398.99a1.25,1.25 0 1,0 2.5,0a1.25,1.25 0 1,0 -2.5,0M148.58,400.07a1.25,1.25 0 1,0 2.5,0a1.25,1.25 0 1,0 -2.5,0M149.08,406.61a1.25,1.25 0 1,0 2.5,0a1.25,1.25 0 1,0 -2.5,0M149.58,412.37a1.25,1.25 0 1,0 2.5,0a1.25,1.25 0 1,0 -2.5,0M150.08,415.88a1.25,1.25 0 1,0 2.5,0a1.25,1.25 0 1,0 -2.5,0M150.58,417.28a1.25,1.25 0 1,0 2.5,0a1.25,1.25 0 1,0 -2.5,0M151.08,418.01a1.25,1.25 0 1,0 2.5,0a1.25,1.25 0 1,0 -2.5,0M169.58,417.48a1.25,1.25 0 1,0 2.5,0a1.25,1.25 0 1,0 -2.5,0M170.08,415.39a1.25,1.25 0 1,0 2.5,0a1.25,1.25 0 1,0 -2.5,0M170.58,411.52a1.25,1.25 0 1,0 2.5,0a1.25,1.25 0 1,0 -2.5,0M171.08,407.02a1.25,1.25 0 1,0 2.5,0a1.25,1.25 0 1,0 -2.5,0M171.58,404.74a1.25,1.25 0 1,0 2.5,0a1.25,1.25 0 1,0 -2.5,0M172.08,406.2a1.25,1.25 0 1,0 2.5,0a1.25,1.25 0 1,0 -2.5,0M172.58,407.93a1.25,1.25 0 1,0 2.5,0a1.25,1.25 0 1,0 -2.5,0M173.08,407.09a1.25,1.25 0 1,0 2.5,0a1.25,1.25 0 1,0 -2.5,0M173.58,405.02a1.25,1.25 0 1,0 2.5,0a1.25,1.25 0 1,0 -2.5,0M174.08,405.34a1.25,1.25 0 1,0 2.5,0a1.25,1.25 0 1,0 -2.5,0M174.58,409.55a1.25,1.25 0 1,0 2.5,0a1.25,1.25 0 1,0 -2.5,0M175.08,413.86a1.25,1.25 0 1,0 2.5,0a1.25,1.25 0 1,0 -2.5,0M175.58,416.59a1.25,1.25 0 1,0 2.5,0a1.25,1.25 0 1,0 -2.5,0M176.08,417.97a1.25,1.25 0 1,0 2.5,0a1.25,1.25 0 1,0 -2.5,0M188.58,418.12a1.25,1.25 0 1,0 2.5,0a1.25,1.25 0 1,0 -2.5,0M189.08,417.54a1.25,1.25 0 1,0 2.5,0a1.25,1.25 0 1,0 -2.5,0M189.58,417.33a1.25,1.25 0 1,0 2.5,0a1.25,1.25 0 1,0 -2.5,0M190.08,417.51a1.25,1.25 0 1,0 2.5,0a1.25,1.25 0 1,0 -2.5,0M190.58,417.77a1.25,1.25 0 1,0 2.5,0a1.25,1.25 0 1,0 -2.5,0M191.08,418.24a1.25,1.25 0 1,0 2.5,0a1.25,1.25 0 1,0 -2.5,0M196.08,418.09a1.25,1.25 0 1,0 2.5,0a1.25,1.25 0 1,0 -2.5,0M196.58,417.41a1.25,1.25 0 1,0 2.5,0a1.25,1.25 0 1,0 -2.5,0M197.08,415.9a1.25,1.25 0 1,0 2.5,0a1.25,1.25 0 1,0 -2.5,0M197.58,414.09a1.25,1.25 0 1,0 2.5,0a1.25,1.25 0 1,0 -2.5,0M198.08,413.19a1.25,1.25 0 1,0 2.5,0a1.25,1.25 0 1,0 -2.5,0M198.58,412.96a1.25,1.25 0 1,0 2.5,0a1.25,1.25 0 1,0 -2.5,0M199.08,411.28a1.25,1.25 0 1,0 2.5,0a1.25,1.25 0 1,0 -2.5,0M199.58,407.51a1.25,1.25 0 1,0 2.5,0a1.25,1.25 0 1,0 -2.5,0M200.08,403.02a1.25,1.25 0 1,0 2.5,0a1.25,1.25 0 1,0 -2.5,0M200.58,403.27a1.25,1.25 0 1,0 2.5,0a1.25,1.25 0 1,0 -2.5,0M201.08,407.97a1.25,1.25 0 1,0 2.5,0a1.25,1.25 0 1,0 -2.5,0M201.58,413.07a1.25,1.25 0 1,0 2.5,0a1.25,1.25 0 1,0 -2.5,0M202.08,416.4a1.25,1.25 0 1,0 2.5,0a1.25,1.25 0 1,0 -2.5,0M202.58,417.91a1.25,1.25 0 1,0 2.5,0a1.25,1.25 0 1,0 -2.5,0M213.08,417.46a1.25,1.25 0 1,0 2.5,0a1.25,1.25 0 1,0 -2.5,0M213.58,415.67a1.25,1.25 0 1,0 2.5,0a1.25,1.25 0 1,0 -2.5,0M214.08,412.65a1.25,1.25 0 1,0 2.5,0a1.25,1.25 0 1,0 -2.5,0M214.58,410.3a1.25,1.25 0 1,0 2.5,0a1.25,1.25 0 1,0 -2.5,0M215.08,410.87a1.25,1.25 0 1,0 2.5,0a1.25,1.25 0 1,0 -2.5,0M215.58,413.84a1.25,1.25 0 1,0 2.5,0a1.25,1.25 0 1,0 -2.5,0M216.08,416.4a1.25,1.25 0 1,0 2.5,0a1.25,1.25 0 1,0 -2.5,0M216.58,417.78a1.25,1.25 0 1,0 2.5,0a1.25,1.25 0 1,0 -2.5,0M229.58,417.85a1.25,1.25 0 1,0 2.5,0a1.25,1.25 0 1,0 -2.5,0M230.08,416.73a1.25,1.25 0 1,0 2.5,0a1.25,1.25 0 1,0 -2.5,0M230.58,414.39a1.25,1.25 0 1,0 2.5,0a1.25,1.25 0 1,0 -2.5,0M231.08,412.61a1.25,1.25 0 1,0 2.5,0a1.25,1.25 0 1,0 -2.5,0M231.58,412.32a1.25,1.25 0 1,0 2.5,0a1.25,1.25 0 1,0 -2.5,0M232.08,414.29a1.25,1.25 0 1,0 2.5,0a1.25,1.25 0 1,0 -2.5,0M232.58,416.26a1.25,1.25 0 1,0 2.5,0a1.25,1.25 0 1,0 -2.5,0M233.08,417.37a1.25,1.25 0 1,0 2.5,0a1.25,1.25 0 1,0 -2.5,0M233.58,417.61a1.25,1.25 0 1,0 2.5,0a1.25,1.25 0 1,0 -2.5,0M234.08,416.99a1.25,1.25 0 1,0 2.5,0a1.25,1.25 0 1,0 -2.5,0M234.58,415.72a1.25,1.25 0 1,0 2.5,0a1.25,1.25 0 1,0 -2.5,0M235.08,414.22a1.25,1.25 0 1,0 2.5,0a1.25,1.25 0 1,0 -2.5,0M235.58,413.5a1.25,1.25 0 1,0 2.5,0a1.25,1.25 0 1,0 -2.5,0M236.08,412.53a1.25,1.25 0 1,0 2.5,0a1.25,1.25 0 1,0 -2.5,0M236.58,410.33a1.25,1.25 0 1,0 2.5,0a1.25,1.25 0 1,0 -2.5,0M237.08,407.1a1.25,1.25 0 1,0 2.5,0a1.25,1.25 0 1,0 -2.5,0M237.58,405.8a1.25,1.25 0 1,0 2.5,0a1.25,1.25 0 1,0 -2.5,0M238.08,408.86a1.25,1.25 0 1,0 2.5,0a1.25,1.25 0 1,0 -2.5,0M238.58,411.71a1.25,1.25 0 1,0 2.5,0a1.25,1.25 0 1,0 -2.5,0M239.08,412.56a1.25,1.25 0 1,0 2.5,0a1.25,1.25 0 1,0 -2.5,0M239.58,411.65a1.25,1.25 0 1,0 2.5,0a1.25,1.25 0 1,0 -2.5,0M240.08,411.64a1.25,1.25 0 1,0 2.5,0a1.25,1.25 0 1,0 -2.5,0M240.58,413.31a1.25,1.25 0 1,0 2.5,0a1.25,1.25 0 1,0 -2.5,0M241.08,415.97a1.25,1.25 0 1,0 2.5,0a1.25,1.25 0 1,0 -2.5,0M241.58,417.63a1.25,1.25 0 1,0 2.5,0a1.25,1.25 0 1,0 -2.5,0M252.08,417.95a1.25,1.25 0 1,0 2.5,0a1.25,1.25 0 1,0 -2.5,0M252.58,416.75a1.25,1.25 0 1,0 2.5,0a1.25,1.25 0 1,0 -2.5,0M253.08,414.85a1.25,1.25 0 1,0 2.5,0a1.25,1.25 0 1,0 -2.5,0M253.58,413.62a1.25,1.25 0 1,0 2.5,0a1.25,1.25 0 1,0 -2.5,0M254.08,413.95a1.25,1.25 0 1,0 2.5,0a1.25,1.25 0 1,0 -2.5,0M254.58,415.63a1.25,1.25 0 1,0 2.5,0a1.25,1.25 0 1,0 -2.5,0M255.08,416.96a1.25,1.25 0 1,0 2.5,0a1.25,1.25 0 1,0 -2.5,0M255.58,418.17a1.25,1.25 0 1,0 2.5,0a1.25,1.25 0 1,0 -2.5,0M267.58,418.17a1.25,1.25 0 1,0 2.5,0a1.25,1.25 0 1,0 -2.5,0M268.08,417.71a1.25,1.25 0 1,0 2.5,0a1.25,1.25 0 1,0 -2.5,0M268.58,416.79a1.25,1.25 0 1,0 2.5,0a1.25,1.25 0 1,0 -2.5,0M269.08,416.15a1.25,1.25 0 1,0 2.5,0a1.25,1.25 0 1,0 -2.5,0M269.58,415.43a1.25,1.25 0 1,0 2.5,0a1.25,1.25 0 1,0 -2.5,0M270.08,413.63a1.25,1.25 0 1,0 2.5,0a1.25,1.25 0 1,0 -2.5,0M270.58,411.81a1.25,1.25 0 1,0 2.5,0a1.25,1.25 0 1,0 -2.5,0M271.08,410.43a1.25,1.25 0 1,0 2.5,0a1.25,1.25 0 1,0 -2.5,0M271.58,412.12a1.25,1.25 0 1,0 2.5,0a1.25,1.25 0 1,0 -2.5,0M272.08,414.67a1.25,1.25 0 1,0 2.5,0a1.25,1.25 0 1,0 -2.5,0M272.58,416.46a1.25,1.25 0 1,0 2.5,0a1.25,1.25 0 1,0 -2.5,0M273.08,417.23a1.25,1.25 0 1,0 2.5,0a1.25,1.25 0 1,0 -2.5,0M273.58,417.37a1.25,1.25 0 1,0 2.5,0a1.25,1.25 0 1,0 -2.5,0M274.08,417.46a1.25,1.25 0 1,0 2.5,0a1.25,1.25 0 1,0 -2.5,0M274.58,417.73a1.25,1.25 0 1,0 2.5,0a1.25,1.25 0 1,0 -2.5,0M284.58,417.84a1.25,1.25 0 1,0 2.5,0a1.25,1.25 0 1,0 -2.5,0M285.08,417.24a1.25,1.25 0 1,0 2.5,0a1.25,1.25 0 1,0 -2.5,0M285.58,417.38a1.25,1.25 0 1,0 2.5,0a1.25,1.25 0 1,0 -2.5,0M286.08,417.68a1.25,1.25 0 1,0 2.5,0a1.25,1.25 0 1,0 -2.5,0M286.58,418.15a1.25,1.25 0 1,0 2.5,0a1.25,1.25 0 1,0 -2.5,0M295.08,417.84a1.25,1.25 0 1,0 2.5,0a1.25,1.25 0 1,0 -2.5,0M295.58,417.26a1.25,1.25 0 1,0 2.5,0a1.25,1.25 0 1,0 -2.5,0M296.08,416.73a1.25,1.25 0 1,0 2.5,0a1.25,1.25 0 1,0 -2.5,0M296.58,416.72a1.25,1.25 0 1,0 2.5,0a1.25,1.25 0 1,0 -2.5,0M297.08,416.71a1.25,1.25 0 1,0 2.5,0a1.25,1.25 0 1,0 -2.5,0M297.58,416.5a1.25,1.25 0 1,0 2.5,0a1.25,1.25 0 1,0 -2.5,0M298.08,415.84a1.25,1.25 0 1,0 2.5,0a1.25,1.25 0 1,0 -2.5,0M298.58,414.7a1.25,1.25 0 1,0 2.5,0a1.25,1.25 0 1,0 -2.5,0M299.08,414.33a1.25,1.25 0 1,0 2.5,0a1.25,1.25 0 1,0 -2.5,0M299.58,414.71a1.25,1.25 0 1,0 2.5,0a1.25,1.25 0 1,0 -2.5,0M300.08,414.82a1.25,1.25 0 1,0 2.5,0a1.25,1.25 0 1,0 -2.5,0M300.58,414.71a1.25,1.25 0 1,0 2.5,0a1.25,1.25 0 1,0 -2.5,0M301.08,414.43a1.25,1.25 0 1,0 2.5,0a1.25,1.25 0 1,0 -2.5,0M301.58,414.17a1.25,1.25 0 1,0 2.5,0a1.25,1.25 0 1,0 -2.5,0M302.08,414.97a1.25,1.25 0 1,0 2.5,0a1.25,1.25 0 1,0 -2.5,0M302.58,415.02a1.25,1.25 0 1,0 2.5,0a1.25,1.25 0 1,0 -2.5,0M303.08,415.05a1.25,1.25 0 1,0 2.5,0a1.25,1.25 0 1,0 -2.5,0M303.58,414.43a1.25,1.25 0 1,0 2.5,0a1.25,1.25 0 1,0 -2.5,0M304.08,414.66a1.25,1.25 0 1,0 2.5,0a1.25,1.25 0 1,0 -2.5,0M304.58,415.54a1.25,1.25 0 1,0 2.5,0a1.25,1.25 0 1,0 -2.5,0M305.08,416.19a1.25,1.25 0 1,0 2.5,0a1.25,1.25 0 1,0 -2.5,0M305.58,416.29a1.25,1.25 0 1,0 2.5,0a1.25,1.25 0 1,0 -2.5,0M306.08,416.7a1.25,1.25 0 1,0 2.5,0a1.25,1.25 0 1,0 -2.5,0M306.58,417.2a1.25,1.25 0 1,0 2.5,0a1.25,1.25 0 1,0 -2.5,0M307.08,417.77a1.25,1.25 0 1,0 2.5,0a1.25,1.25 0 1,0 -2.5,0"/>
</g>
<path d="M166.4,380.4 L169.69,394.78" stroke="#111" stroke-width="0.8" fill="none"/><path d="M171.3,401.8 L168.04,395.16 L171.35,394.4 Z" fill="#000"/>
<path d="M179.7,380.4 L177.43,394.69" stroke="#111" stroke-width="0.8" fill="none"/><path d="M176.3,401.8 L175.75,394.42 L179.11,394.96 Z" fill="#000"/>
<g font-family='"Liberation Sans", sans-serif'>
<text transform="translate(86.1,95.8) rotate(-90)" font-size="7.6" textLength="19.1" lengthAdjust="spacingAndGlyphs" fill="#000">(101)</text>
<text transform="translate(136.1,53) rotate(-90)" font-size="7.9" textLength="40.3" lengthAdjust="spacingAndGlyphs" fill="#000">(103)/(112)</text>
<text transform="translate(152.3,111.2) rotate(-90)" font-size="7.6" textLength="18.9" lengthAdjust="spacingAndGlyphs" fill="#000">(004)</text>
<text transform="translate(175.8,105.7) rotate(-90)" font-size="7.6" textLength="19" lengthAdjust="spacingAndGlyphs" fill="#000">(200)</text>
<text transform="translate(66.2,290.8) rotate(-90)" font-size="7.6" textLength="18.7" lengthAdjust="spacingAndGlyphs" fill="#000">(020)</text>
<text transform="translate(85.7,256.1) rotate(-90)" font-size="7.6" textLength="39.5" lengthAdjust="spacingAndGlyphs" fill="#000">(011)/(110)</text>
<text transform="translate(135.7,252.9) rotate(-90)" font-size="7.7" textLength="85.3" lengthAdjust="spacingAndGlyphs" fill="#000">(031)/(130)/(-121)/(121)</text>
<text transform="translate(153.1,270.1) rotate(-90)" font-size="7.6" textLength="18.7" lengthAdjust="spacingAndGlyphs" fill="#000">(040)</text>
<text transform="translate(175.8,269.7) rotate(-90)" font-size="7.6" textLength="40" lengthAdjust="spacingAndGlyphs" fill="#000">(002)/(200)</text>
<text transform="translate(64.8,413.9) rotate(-90)" font-size="7.6" textLength="18.7" lengthAdjust="spacingAndGlyphs" fill="#000">(020)</text>
<text transform="translate(86.1,372.6) rotate(-90)" font-size="7.6" textLength="39.6" lengthAdjust="spacingAndGlyphs" fill="#000">(011)/(110)</text>
<text transform="translate(134.2,391.4) rotate(-90)" font-size="7.7" textLength="85.2" lengthAdjust="spacingAndGlyphs" fill="#000">(031)/(130)/(-121)/(121)</text>
<text transform="translate(152.4,396.2) rotate(-90)" font-size="7.6" textLength="19.8" lengthAdjust="spacingAndGlyphs" fill="#000">(040)</text>
<text transform="translate(152.4,396.2) rotate(-90)" font-size="7.6" textLength="19.8" lengthAdjust="spacingAndGlyphs" fill="#000">(040)</text>
<text transform="translate(168.1,378.9) rotate(-90)" font-size="7.6" textLength="18.8" lengthAdjust="spacingAndGlyphs" fill="#000">(002)</text>
<text transform="translate(182.3,379.3) rotate(-90)" font-size="7.6" textLength="19.2" lengthAdjust="spacingAndGlyphs" fill="#000">(200)</text>
<text x="293.7" y="96.7" font-size="11.4" textLength="20.6" lengthAdjust="spacingAndGlyphs">I4<tspan font-size="6.6" dy="4.3" fill="#555">1</tspan><tspan dy="-4.3">/a</tspan></text>
<text x="286.8" y="115.8" font-size="10.6" textLength="34.6" lengthAdjust="spacingAndGlyphs">3.0 GPa</text>
<text x="291.6" y="260.9" font-size="11.4" textLength="17.6" lengthAdjust="spacingAndGlyphs">I2/a</text>
<text x="281.6" y="279.0" font-size="10.6" textLength="34.2" lengthAdjust="spacingAndGlyphs">1.5 GPa</text>
<text x="283.3" y="384.1" font-size="11.4" textLength="17.2" lengthAdjust="spacingAndGlyphs">I2/a</text>
<text y="400.7" font-size="10"><tspan x="254" textLength="12.8" lengthAdjust="spacingAndGlyphs">am</tspan><tspan x="267.6" textLength="20.2" lengthAdjust="spacingAndGlyphs">bient</tspan> <tspan x="289.3" textLength="37.4" lengthAdjust="spacingAndGlyphs">pressure</tspan></text>
<text x="59.4" y="465.5" font-size="11.6" text-anchor="middle">4</text>
<text x="142.5" y="465.5" font-size="11.6" text-anchor="middle">8</text>
<text x="226" y="465.5" font-size="11.6" text-anchor="middle">12</text>
<text x="309.2" y="465.5" font-size="11.6" text-anchor="middle">16</text>
<text x="135.2" y="492.8" font-size="16.8">2</text>
<text x="144.6" y="492.8" font-size="16.4" font-family='"Liberation Serif", serif' textLength="8.6" lengthAdjust="spacingAndGlyphs">θ</text>
<text x="158.6" y="492.8" font-size="16.8" textLength="73.4" lengthAdjust="spacingAndGlyphs">(degrees)</text>
<text transform="translate(15.9,317.4) rotate(-90)" font-size="17.8" textLength="165.4" lengthAdjust="spacingAndGlyphs">Intensity (arb. units)</text>
</g>
</svg>
</body>
</html>
